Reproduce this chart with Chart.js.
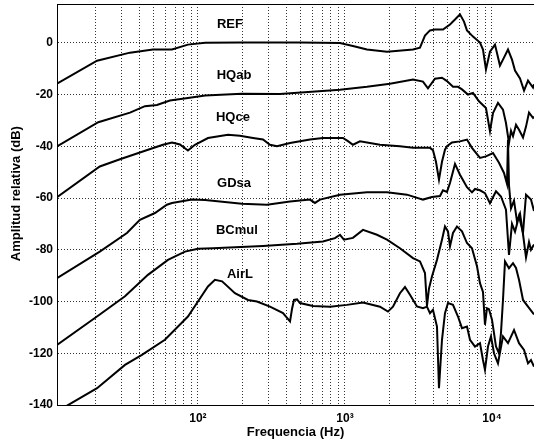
<!DOCTYPE html>
<html><head><meta charset="utf-8">
<script src="https://cdn.jsdelivr.net/npm/chart.js@4"></script>
<style>html,body{margin:0;padding:0;background:#fff}canvas{display:block}</style>
</head><body>
<canvas id="c" width="534" height="441"></canvas>
<script>
// ---- data (frequency in Hz, amplitude in dB) ----
const seriesNames = ['REF','HQab','HQce','GDsa','BCmul','AirL'];

const refFreq = [11,20.6,34.5,49.4,66.6,85.5,112,193,494,925,1170,1411,1931,2902,3238,3501,3786,4094,4642,5180,5602,6058,6450,6760,7427,8287,8685,9100,9690,10480,11330,11880,12850,13680,14340,15510,16520,17580,19010,19310];
const refDb   = [-15.8,-6.9,-3.8,-2.6,-2.6,-0.7,0,0.1,0.1,-0.1,-1.4,-2.6,-3.5,-2.6,-1.9,2.8,4.8,5.1,5.1,7.1,9.0,11,8.2,4.8,2.4,0.1,-2.6,-10.3,-3.4,-0.7,-8.8,-6.5,-2.6,-6.5,-10.7,-13.8,-18.5,-14.6,-17.3,-16];

const hqabFreq = [11,21,34.5,43.6,52.6,64.5,85.5,112,199,361,925,1411,2024,2902,3393,3670,4094,4570,4942,5430,5872,6251,6867,7427,8158,9100,9690,10160,10985,11880,12450,13050,13470,13900,14570,15270,16260,17040,17860,19010,19310];
const hqabDb   = [-40,-30.7,-27,-24.5,-24,-22.3,-21.3,-20.4,-19.7,-19.8,-18.1,-17,-15.8,-14.2,-15,-17.6,-13.9,-13.5,-14.8,-17,-17,-18,-20,-19.4,-22.6,-25.2,-34.2,-27.2,-23.2,-25.8,-31,-38.7,-34,-36.1,-31.7,-33.6,-36.6,-32.4,-27,-29,-28.5];

const hqceFreq = [11,21.5,29.5,42.2,57.8,66.6,75.4,85.5,95.4,117,160,193,237,277,309,345,423,578,708,969,1048,1133,1265,1730,2366,2902,3786,3968,4159,4360,4570,4790,4942,5345,6058,6760,7310,8287,9100,10160,11160,12070,12650,12850,13050,13470,14120,14800,15510,16260,17040,17860,18420,19310];
const hqceDb   = [-59.7,-47.8,-45,-42,-39.4,-38.5,-39.3,-41.6,-39.4,-36.8,-35.5,-35.9,-36.8,-37.4,-39.4,-40,-38.7,-37.4,-36.8,-36.8,-38,-39.4,-38.1,-39.4,-40,-40.6,-40.6,-41.5,-46,-52.9,-46,-41.3,-40,-38.5,-38.1,-37.4,-40.6,-44.5,-43.9,-42.6,-46.4,-50.3,-54.5,-37.5,-55,-64,-61,-69,-66,-74,-83,-77,-80,-78];

const gdsaFreq = [11,21.5,32.9,40.3,51,61.5,66.6,91,112,199,295,423,578,625,676,925,1411,1931,2641,3393,3906,4430,4642,4942,5180,5602,6058,6760,7310,7664,8287,8960,9690,10650,11510,12450,13050,13680,14340,15270,16260,17040,18420,19310];
const gdsaDb   = [-91,-80.7,-73.5,-68.4,-65.8,-62.6,-61.9,-60.6,-60.8,-62.2,-62.6,-61.3,-60.6,-61.9,-60.6,-58.7,-57.8,-57.8,-58.7,-60.6,-59.6,-59.2,-57,-57.6,-54.2,-46.8,-51,-55.8,-57.8,-56.5,-57,-58.1,-62,-57.4,-59.4,-64.5,-82,-70,-73,-67,-73.4,-58.7,-60.6,-65];

const bcmulFreq = [11,21.5,31.9,45.7,62.5,81.6,100,126.5,277,472,708,855,925,984,1133,1326,1651,1931,2366,2902,3238,3501,3613,3727,3906,4226,4570,4790,5020,5180,5430,5780,6251,6760,7310,7907,8287,8685,8960,9247,9540,10000,10650,11160,11510,11880,12260,13050,13900,14570,15270,16260,17580,19010,19310];
const bcmulDb   = [-116.8,-105,-98,-89.7,-83.9,-80.7,-79.6,-79.4,-78.5,-77.7,-76.8,-75.5,-74.2,-76.1,-75.4,-72.3,-74.2,-76.1,-79.4,-83.2,-84.5,-89,-101.7,-95,-90.3,-83.9,-76.1,-71,-72.9,-78.7,-73.5,-71,-72.9,-77.4,-79.4,-86.4,-92.9,-96.3,-109,-102.6,-103,-107,-117.4,-120,-112.2,-99.4,-84.5,-87.1,-85.2,-87,-91.6,-99.4,-102,-104.5,-105];

const airlFreq = [11,20.6,31.9,41.6,59.6,85.5,100,117,130.5,146,178.5,219,252,309,379,423,436,450,472,494,606,791,1032,1326,1730,1961,2121,2366,2560,2768,3089,3393,3613,3786,3968,4226,4360,4570,4790,5020,5430,5872,6251,6760,7086,7664,8287,8685,8960,9393,9845,10320,10985,11880,12850,14120,15270,16520,17580,18420,19310];
const airlDb   = [-142.5,-133.5,-124.5,-120.6,-114.8,-105.8,-100,-94.2,-91.6,-92.2,-96.8,-99.4,-100,-102,-104.5,-107.7,-103,-99.4,-99.2,-100.6,-101.7,-102,-101.3,-100.4,-102,-103.9,-102,-96.8,-94.4,-97.4,-101.9,-102.6,-102,-104.5,-103.2,-109.7,-133.5,-114.8,-104.5,-100.6,-101.3,-105.8,-110.3,-109.7,-114.8,-117.4,-116.1,-122.6,-126.4,-117.4,-113.5,-120,-123.9,-113.5,-116.1,-111,-116.1,-118.7,-123.9,-122.6,-125.2];

// in-plot series labels (position in data units)
const labelFreq = [165,176,173,176,184,193];
const labelDb   = [7.1,-12.7,-29,-54.2,-72.5,-89.7];

// axes
const xGridValues = [20,30,40,50,60,70,80,90,100,200,300,400,500,600,700,800,900,1000,2000,3000,4000,5000,6000,7000,8000,9000,10000];
const xTickLabels = {100:'10²',1000:'10³',10000:'10⁴'};
const yTickValues = [-140,-120,-100,-80,-60,-40,-20,0];

const FONT = '"Liberation Sans", Arial, Helvetica, sans-serif';
Chart.defaults.font.family = FONT;
Chart.defaults.color = '#000';

const pairs = [[refFreq,refDb],[hqabFreq,hqabDb],[hqceFreq,hqceDb],[gdsaFreq,gdsaDb],[bcmulFreq,bcmulDb],[airlFreq,airlDb]];
const datasets = pairs.map((p,i)=>({
  label: seriesNames[i],
  data: p[0].map((f,j)=>({x:f, y:p[1][j]})),
  borderColor:'#000', borderWidth:2, pointRadius:0, tension:0, fill:false
}));

const labelPlugin = {
  id:'seriesLabels',
  afterDatasetsDraw(chart){
    const {ctx, scales:{x,y}, chartArea} = chart;
    ctx.save();
    ctx.font = 'bold 13px ' + FONT;
    ctx.fillStyle = '#000';
    ctx.textAlign = 'center';
    ctx.textBaseline = 'middle';
    seriesNames.forEach((n,i)=>ctx.fillText(n, x.getPixelForValue(labelFreq[i]), y.getPixelForValue(labelDb[i])));
    ctx.strokeStyle = '#000'; ctx.lineWidth = 1;
    ctx.beginPath();
    ctx.moveTo(chartArea.left, Math.round(chartArea.top)+0.5);
    ctx.lineTo(chartArea.right, Math.round(chartArea.top)+0.5);
    ctx.stroke();
    ctx.restore();
  }
};

new Chart(document.getElementById('c'), {
  type:'line',
  data:{datasets},
  options:{
    responsive:false, animation:false,
    layout:{padding:{top:4,left:0,right:0,bottom:0}},
    plugins:{legend:{display:false}, tooltip:{enabled:false}},
    scales:{
      x:{
        type:'logarithmic', min:11, max:19310,
        afterBuildTicks:s=>{ s.ticks = xGridValues.map(v=>({value:v})); },
        afterFit:s=>{ s.height = 36; s.paddingLeft = 0; s.paddingRight = 0; },
        grid:{color:'rgba(0,0,0,0.8)', lineWidth:1, drawTicks:false},
        border:{display:true, color:'#000', width:1, dash:[1,2]},
        ticks:{autoSkip:false, maxRotation:0, minRotation:0, padding:6, color:'#000',
               font:{size:12, weight:'bold'}, callback:v=>xTickLabels[v] || ''},
        title:{display:true, text:'Frequencia (Hz)', color:'#000', font:{size:13, weight:'bold'}, padding:{top:0,bottom:1}}
      },
      y:{
        type:'linear', min:-140, max:15,
        afterBuildTicks:s=>{ s.ticks = yTickValues.map(v=>({value:v})); },
        afterFit:s=>{ s.width = 57; s.paddingTop = 0; s.paddingBottom = 0; },
        grid:{color:'rgba(0,0,0,0.8)', lineWidth:1, drawTicks:false},
        border:{display:true, color:'#000', width:1, dash:[1,2]},
        ticks:{padding:4, color:'#000', font:{size:12, weight:'bold'}},
        title:{display:true, text:'      Amplitud relativa (dB)', color:'#000', font:{size:13, weight:'bold'}, padding:{top:9,bottom:0}}
      }
    }
  },
  plugins:[labelPlugin]
});
</script>
</body></html>
